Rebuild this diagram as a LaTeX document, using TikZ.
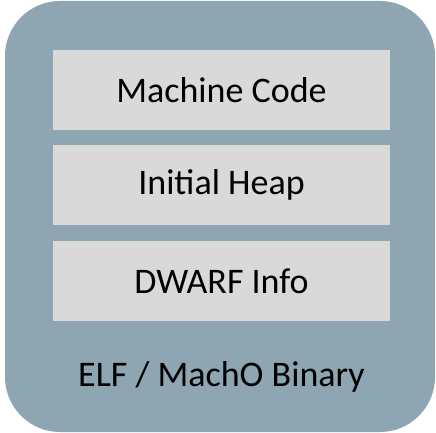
\documentclass[tikz,border=0pt]{standalone}
\usepackage{fontspec}
\setmainfont{Carlito}
\usetikzlibrary{positioning}
\definecolor{shell}{HTML}{8EA6B2}
\definecolor{layer}{HTML}{D9D9D9}
\tikzset{
    container/.style={rectangle, fill=shell, rounded corners=55pt, minimum width=430pt, minimum height=431pt, inner sep=0pt},
    layerbox/.style={rectangle, fill=layer, minimum width=337pt, minimum height=80pt, inner sep=0pt, font=\fontsize{36}{40}\selectfont},
    caption/.style={font=\fontsize{36}{40}\selectfont, inner sep=0pt}
}
\begin{document}
\begin{tikzpicture}[node distance=15pt]
\useasboundingbox (0,0) rectangle (436pt,-433pt);

\node[container] (binary) at (220pt,-216.5pt) {};

\node[layerbox] (code) at (221.5pt,-90pt) {Machine Code};
\node[layerbox, below=of code] (heap) {Initial Heap};
\node[layerbox, below=of heap] (dwarf) {DWARF Info};

\node[caption] (label) at (221.5pt,-377pt) {ELF / MachO Binary};

\end{tikzpicture}
\end{document}
